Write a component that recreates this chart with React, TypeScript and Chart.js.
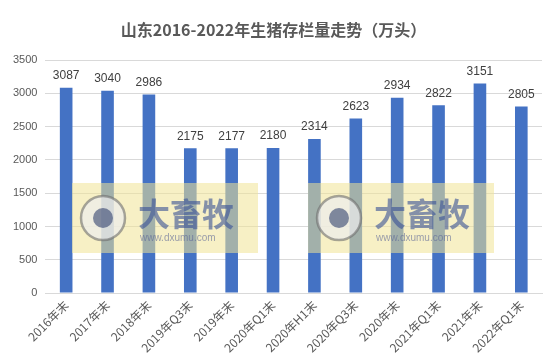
import React, { useEffect, useRef } from "react";
import { Chart, registerables } from "chart.js";

Chart.register(...registerables);

const categories = [
  "2016年末", "2017年末", "2018年末", "2019年Q3末", "2019年末", "2020年Q1末",
  "2020年H1末", "2020年Q3末", "2020年末", "2021年Q1末", "2021年末", "2022年Q1末",
];
const values = [3087, 3040, 2986, 2175, 2177, 2180, 2314, 2623, 2934, 2822, 3151, 2805];
const titleText = "山东2016-2022年生猪存栏量走势（万头）";
const watermarkText = "大畜牧";
const watermarkUrl = "www.dxumu.com";

const labelPlugin = {
  id: "barLabels",
  afterDatasetsDraw(chart: any) {
    const ctx = chart.ctx;
    const meta = chart.getDatasetMeta(0);
    ctx.save();
    ctx.font = "12px 'Liberation Sans', Arial, sans-serif";
    ctx.fillStyle = "#404040";
    ctx.textAlign = "center";
    ctx.textBaseline = "bottom";
    meta.data.forEach((bar: any, i: number) => {
      ctx.fillText(String(values[i]), bar.x, bar.y - 6);
    });
    ctx.restore();
  },
};

const watermarkPlugin = {
  id: "watermark",
  afterDraw(chart: any) {
    const ctx = chart.ctx;
    const boxes = [72, 308];
    ctx.save();
    boxes.forEach((x0) => {
      ctx.fillStyle = "rgba(240, 228, 150, 0.55)";
      ctx.fillRect(x0, 183, 186, 70);
      ctx.beginPath();
      ctx.arc(x0 + 31, 218, 22, 0, Math.PI * 2);
      ctx.fillStyle = "rgba(238,238,238,0.7)";
      ctx.fill();
      ctx.lineWidth = 2.5;
      ctx.strokeStyle = "rgba(110,110,110,0.6)";
      ctx.stroke();
      ctx.beginPath();
      ctx.arc(x0 + 31, 218, 10, 0, Math.PI * 2);
      ctx.fillStyle = "rgba(50,65,110,0.6)";
      ctx.fill();
      ctx.fillStyle = "rgba(55,80,150,0.6)";
      ctx.font = "bold 32px 'Noto Sans CJK SC', sans-serif";
      ctx.textAlign = "left";
      ctx.textBaseline = "middle";
      ctx.fillText(watermarkText, x0 + 66, 214);
      ctx.font = "10px 'Liberation Sans', sans-serif";
      ctx.fillStyle = "rgba(90,100,150,0.6)";
      ctx.fillText(watermarkUrl, x0 + 68, 238);
    });
    ctx.restore();
  },
};

export default function App() {
  const ref = useRef<HTMLCanvasElement>(null);
  useEffect(() => {
    if (!ref.current) return;
    const chart = new Chart(ref.current, {
      type: "bar",
      data: {
        labels: categories,
        datasets: [
          {
            data: values,
            backgroundColor: "#4472C4",
            barPercentage: 0.61,
            categoryPercentage: 0.5,
          },
        ],
      },
      options: {
        animation: false,
        responsive: false,
        maintainAspectRatio: false,
        layout: { padding: { top: 6, right: 10, left: 5, bottom: 1 } },
        plugins: {
          legend: { display: false },
          tooltip: { enabled: false },
          title: {
            display: true,
            text: titleText,
            color: "#595959",
            font: { size: 16, weight: "bold", family: "'Noto Sans CJK SC', sans-serif" },
            padding: { top: 14, bottom: 21 },
          },
        },
        scales: {
          x: {
            grid: { display: false, drawTicks: false },
            border: { color: "#D9D9D9" },
            ticks: {
              color: "#595959",
              font: { size: 12, family: "'Noto Sans CJK SC', sans-serif" },
              maxRotation: 45,
              minRotation: 45,
              padding: 5,
            },
          },
          y: {
            min: 0,
            max: 3500,
            grid: { color: "#D9D9D9", drawTicks: false },
            border: { display: false },
            ticks: {
              stepSize: 500,
              color: "#595959",
              font: { size: 11, family: "'Liberation Sans', Arial, sans-serif" },
              padding: 8,
              callback: (v: any) => String(v),
            },
          },
        },
      },
      plugins: [labelPlugin, watermarkPlugin],
    });
    return () => chart.destroy();
  }, []);
  return (
    <div style={{ width: 552, height: 361, margin: -8, background: "#fff" }}>
      <canvas ref={ref} width={552} height={361} />
    </div>
  );
}
